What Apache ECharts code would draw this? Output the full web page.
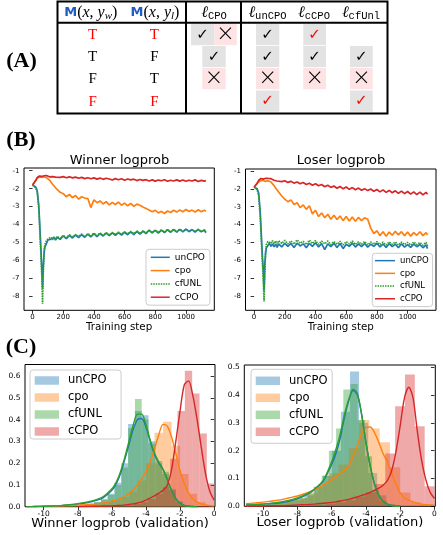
<!DOCTYPE html>
<html><head><meta charset="utf-8">
<script src="https://cdn.jsdelivr.net/npm/echarts@6/dist/echarts.min.js"></script>
<style>html,body{margin:0;padding:0;background:#fff}#c{width:443px;height:535px}</style>
</head><body><div id="c"></div>
<script>
// ---------- (B) training curves ----------
const steps = [0,10,20,30,40,45,50,55,60,65, 70,75,80,90,100,110,120,130,140,150,
  160,180,200,220,240,260,280,300,320,340, 360,380,400,420,440,460,480,500,520,540,
  560,580,600,620,640,660,680,700,720,740, 760,780,800,820,840,860,880,900,920,940,
  960,980,1000,1020,1040,1060,1080,1100,1120,1130];
const winUnCPO = [-1.80,-1.82,-1.90,-2.10,-2.90,-3.70,-4.60,-5.50,-6.40,-7.55,
  -6.30,-5.60,-5.25,-5.05,-4.85,-4.95,-4.80,-4.90,-4.72,-4.85,
  -4.70,-4.82,-4.62,-4.78,-4.60,-4.74,-4.58,-4.72,-4.55,-4.70,
  -4.52,-4.68,-4.50,-4.66,-4.49,-4.63,-4.47,-4.61,-4.45,-4.60,
  -4.44,-4.58,-4.42,-4.56,-4.40,-4.55,-4.38,-4.52,-4.36,-4.50,
  -4.30,-4.45,-4.32,-4.47,-4.30,-4.44,-4.28,-4.42,-4.27,-4.41,
  -4.26,-4.40,-4.25,-4.39,-4.27,-4.42,-4.26,-4.40,-4.30,-4.45];
const winCpo = [-1.80,-1.70,-1.55,-1.42,-1.38,-1.35,-1.40,-1.33,-1.37,-1.34,
  -1.38,-1.35,-1.40,-1.38,-1.45,-1.52,-1.62,-1.75,-1.82,-1.95,
  -2.02,-2.20,-2.28,-2.45,-2.32,-2.50,-2.38,-2.58,-2.45,-2.52,
  -2.55,-3.05,-2.62,-2.78,-2.68,-2.85,-2.72,-2.90,-2.76,-2.88,
  -2.75,-2.92,-2.80,-2.95,-2.82,-2.98,-2.86,-2.92,-3.02,-3.10,
  -3.18,-3.28,-3.20,-3.35,-3.26,-3.38,-3.24,-3.32,-3.20,-3.30,
  -3.18,-3.28,-3.16,-3.27,-3.19,-3.30,-3.17,-3.28,-3.20,-3.25];
const winCfUNL = [-1.80,-1.83,-1.95,-2.20,-3.10,-4.00,-4.90,-5.80,-6.90,-8.40,
  -6.60,-5.40,-5.10,-4.90,-4.78,-4.88,-4.70,-4.84,-4.68,-4.80,
  -4.65,-4.76,-4.60,-4.72,-4.56,-4.70,-4.55,-4.66,-4.52,-4.68,
  -4.50,-4.62,-4.48,-4.60,-4.46,-4.58,-4.44,-4.57,-4.43,-4.55,
  -4.42,-4.53,-4.40,-4.52,-4.38,-4.50,-4.36,-4.49,-4.35,-4.46,
  -4.33,-4.44,-4.30,-4.42,-4.29,-4.41,-4.28,-4.40,-4.27,-4.38,
  -4.26,-4.37,-4.25,-4.36,-4.28,-4.38,-4.27,-4.37,-4.29,-4.40];
const winCCPO = [-1.80,-1.72,-1.55,-1.38,-1.33,-1.30,-1.35,-1.29,-1.32,-1.27,
  -1.31,-1.28,-1.33,-1.27,-1.30,-1.34,-1.29,-1.33,-1.30,-1.36,
  -1.31,-1.37,-1.33,-1.39,-1.34,-1.40,-1.36,-1.42,-1.37,-1.44,
  -1.39,-1.45,-1.40,-1.47,-1.41,-1.48,-1.42,-1.46,-1.52,-1.44,
  -1.50,-1.45,-1.53,-1.46,-1.51,-1.47,-1.55,-1.49,-1.54,-1.50,
  -1.57,-1.51,-1.58,-1.52,-1.56,-1.50,-1.59,-1.53,-1.57,-1.51,
  -1.58,-1.52,-1.59,-1.53,-1.57,-1.51,-1.60,-1.54,-1.58,-1.55];
const losUnCPO = [-1.90,-1.92,-2.00,-2.25,-3.30,-4.20,-5.10,-5.90,-6.60,-7.70,
  -6.20,-5.60,-5.30,-5.20,-5.05,-5.22,-5.08,-5.25,-5.10,-5.28,
  -5.08,-5.25,-5.05,-5.22,-5.06,-5.28,-5.04,-5.20,-5.08,-5.30,
  -5.05,-5.22,-5.02,-5.25,-5.07,-5.40,-5.08,-5.24,-5.05,-5.28,
  -5.06,-5.35,-5.10,-5.22,-5.04,-5.26,-5.08,-5.24,-5.06,-5.27,
  -5.10,-5.22,-5.05,-5.25,-5.09,-5.28,-5.07,-5.24,-5.10,-5.30,
  -5.08,-5.26,-5.12,-5.28,-5.10,-5.24,-5.12,-5.30,-5.14,-5.35];
const losCpo = [-1.90,-1.82,-1.68,-1.60,-1.56,-1.53,-1.58,-1.52,-1.57,-1.53,
  -1.58,-1.54,-1.59,-1.55,-1.60,-1.62,-1.70,-1.82,-1.95,-2.05,
  -2.18,-2.40,-2.58,-2.72,-2.62,-2.88,-2.78,-3.05,-2.90,-3.15,
  -2.95,-3.40,-3.20,-3.55,-3.35,-3.62,-3.42,-3.70,-3.48,-3.72,
  -3.52,-3.78,-3.55,-3.80,-3.58,-3.82,-3.60,-3.78,-3.62,-3.70,
  -4.20,-4.50,-4.35,-4.62,-4.40,-4.65,-4.42,-4.60,-4.38,-4.58,
  -4.40,-4.62,-4.42,-4.65,-4.45,-4.60,-4.40,-4.62,-4.45,-4.58];
const losCfUNL = [-1.90,-1.93,-2.05,-2.40,-3.60,-4.50,-5.40,-6.30,-7.20,-8.30,
  -6.60,-5.50,-5.10,-4.95,-4.85,-5.05,-4.90,-5.08,-4.92,-5.10,
  -4.90,-5.06,-4.88,-5.08,-4.92,-5.10,-4.86,-5.05,-4.94,-5.12,
  -4.88,-5.06,-4.90,-5.10,-4.93,-5.08,-4.92,-5.12,-4.95,-5.10,
  -4.94,-5.14,-4.96,-5.08,-4.93,-5.12,-4.97,-5.10,-4.95,-5.14,
  -4.98,-5.10,-4.96,-5.12,-4.99,-5.14,-4.97,-5.10,-4.98,-5.15,
  -4.99,-5.12,-5.00,-5.15,-4.98,-5.12,-5.01,-5.16,-5.00,-5.20];
const losCCPO = [-1.90,-1.85,-1.70,-1.52,-1.46,-1.42,-1.47,-1.41,-1.46,-1.40,
  -1.45,-1.41,-1.46,-1.42,-1.47,-1.43,-1.48,-1.52,-1.49,-1.56,
  -1.51,-1.60,-1.55,-1.64,-1.58,-1.68,-1.62,-1.72,-1.65,-1.76,
  -1.69,-1.80,-1.72,-1.83,-1.76,-1.88,-1.80,-1.92,-1.84,-1.97,
  -1.87,-2.00,-1.90,-2.03,-1.93,-2.05,-1.96,-2.08,-1.99,-2.10,
  -2.01,-2.14,-2.04,-2.17,-2.06,-2.20,-2.09,-2.22,-2.11,-2.25,
  -2.13,-2.27,-2.15,-2.30,-2.17,-2.32,-2.18,-2.34,-2.20,-2.30];
const stepTicks = [0,200,400,600,800,1000];
const logTicks = [-8,-7,-6,-5,-4,-3,-2,-1];

// ---------- (C) validation histograms ----------
// bins: [first edge, bin width, heights]
const hWinUnCPO = [-9.05, 0.4, [0.002,0.004,0.005,0.008,0.012,0.020,0.032,0.060,0.110,0.200,0.380,0.440,0.420,0.300,0.200,0.150,0.075,0.022,0.005]];
const hWinCpo   = [-10.0, 0.5, [0.003,0.004,0.005,0.006,0.008,0.012,0.016,0.022,0.030,0.045,0.070,0.120,0.200,0.340,0.390,0.280,0.150,0.060,0.020,0.005]];
const hWinCfUNL = [-9.05, 0.4, [0.003,0.004,0.006,0.010,0.015,0.022,0.035,0.055,0.100,0.180,0.360,0.494,0.400,0.290,0.210,0.160,0.080,0.025,0.006]];
const hWinCCPO  = [-6.02, 0.43, [0.004,0.005,0.007,0.012,0.020,0.035,0.060,0.090,0.220,0.440,0.624,0.520,0.336,0.107]];
const hLosUnCPO = [-10.23, 0.53, [0.005,0.008,0.012,0.018,0.025,0.040,0.070,0.110,0.200,0.340,0.485,0.300,0.120,0.040,0.008]];
const hLosCpo   = [-11.0, 0.6, [0.006,0.006,0.008,0.020,0.022,0.030,0.050,0.080,0.120,0.150,0.210,0.310,0.280,0.230,0.140,0.050,0.015,0.005]];
const hLosCfUNL = [-10.36, 0.42, [0.004,0.006,0.008,0.012,0.016,0.022,0.030,0.045,0.070,0.110,0.200,0.280,0.420,0.440,0.310,0.180,0.060,0.020,0.005]];
const hLosCCPO  = [-7.47, 0.575, [0.004,0.006,0.010,0.015,0.022,0.035,0.050,0.080,0.190,0.360,0.474,0.288,0.072]];

const kdeX = [-11,-10.5,-10,-9.5,-9,-8.5,-8,-7.5,-7,-6.5,-6,
  -5.75,-5.5,-5.25,-5,-4.75,-4.5,-4.25,-4,-3.75,-3.5,-3.25,-3,-2.75,-2.5,-2.25,-2,-1.75,-1.5,-1.25,-1,-0.75,-0.5,-0.25,0];
const kWinUnCPO = [0.000,0.001,0.002,0.003,0.005,0.008,0.012,0.018,0.027,0.042,0.075,
  0.105,0.150,0.215,0.285,0.355,0.400,0.405,0.365,0.300,0.240,0.200,0.170,0.125,0.075,0.038,0.016,0.006,0.002,0.001,0.000,null,null,null,null];
const kWinCpo = [0.000,0.001,0.002,0.003,0.004,0.005,0.007,0.009,0.012,0.017,0.025,
  0.030,0.037,0.047,0.060,0.078,0.100,0.128,0.160,0.205,0.265,0.330,0.378,0.370,0.320,0.245,0.165,0.105,0.062,0.036,0.021,0.013,0.008,0.005,0.003];
const kWinCfUNL = [0.000,0.001,0.002,0.003,0.005,0.009,0.014,0.021,0.030,0.047,0.082,
  0.112,0.160,0.225,0.300,0.375,0.425,0.425,0.375,0.305,0.245,0.205,0.172,0.125,0.073,0.035,0.014,0.005,0.002,0.001,0.000,null,null,null,null];
const kWinCCPO = [null,null,null,null,null,null,0.000,0.001,0.002,0.003,0.004,
  0.005,0.006,0.008,0.010,0.013,0.017,0.022,0.030,0.040,0.050,0.062,0.075,0.098,0.170,0.300,0.440,0.560,0.578,0.510,0.400,0.270,0.150,0.070,0.030];
const kLosUnCPO = [0.005,0.006,0.008,0.010,0.013,0.018,0.027,0.040,0.060,0.090,0.150,
  0.190,0.245,0.320,0.380,0.420,0.405,0.330,0.230,0.145,0.080,0.040,0.018,0.008,0.003,0.001,0.000,null,null,null,null,null,null,null,null];
const kLosCpo = [0.009,0.012,0.015,0.019,0.023,0.030,0.037,0.047,0.060,0.076,0.096,
  0.106,0.118,0.130,0.146,0.180,0.220,0.262,0.283,0.285,0.265,0.230,0.190,0.160,0.120,0.080,0.048,0.030,0.022,0.016,0.011,0.008,0.006,0.005,0.004];
const kLosCfUNL = [0.005,0.006,0.008,0.011,0.015,0.021,0.030,0.043,0.062,0.092,0.160,
  0.205,0.260,0.330,0.385,0.415,0.400,0.330,0.230,0.145,0.080,0.040,0.018,0.008,0.003,0.001,0.000,null,null,null,null,null,null,null,null];
const kLosCCPO = [0.000,0.001,0.001,0.002,0.002,0.003,0.005,0.006,0.008,0.011,0.014,
  0.016,0.019,0.022,0.025,0.029,0.034,0.039,0.044,0.050,0.057,0.065,0.076,0.092,0.128,0.195,0.290,0.390,0.428,0.390,0.270,0.165,0.095,0.050,0.028];
const lpTicks = [-10,-8,-6,-4,-2,0];
const densWinTicks = [0,0.1,0.2,0.3,0.4,0.5,0.6];
const densLosTicks = [0,0.1,0.2,0.3,0.4,0.5];

// ---------- (A) table ----------
const names = ['unCPO','cpo','cfUNL','cCPO'];
const colW = ['T','T','F','F'];
const colL = ['T','F','T','F'];
const cellCPO = [['c','x'],['c'],['x'],[]];
const cellUnCPO = ['c','c','x','C'];
const cellCCPO = ['C','c','x',''];
const cellCfUnl = ['','c','x','C'];

const C = {blue:'#1f77b4', orange:'#ff7f0e', green:'#2ca02c', red:'#d62728'};
const A = {blue:'rgba(31,119,180,0.4)', orange:'rgba(255,127,14,0.4)', green:'rgba(44,160,44,0.4)', red:'rgba(214,39,40,0.4)'};
const FONT = 'DejaVu Sans';

const chart = echarts.init(document.getElementById('c'), null, {renderer:'canvas'});

function grid(l,t,w,h){return {left:l,top:t,width:w,height:h,show:true,borderColor:'#000',borderWidth:1,backgroundColor:'transparent',containLabel:false,outerBoundsMode:'none'};}
function axis(gi, min, max, ticks, fs, margin, fmt, name, nameGap, nameSize){
  const a = {type:'value', gridIndex:gi, min, max,
    axisLine:{show:false},
    axisTick:{show:true, customValues:ticks, length:3.5, inside:false, lineStyle:{color:'#000',width:0.8}},
    axisLabel:{show:true, customValues:ticks, fontSize:fs, fontFamily:FONT, color:'#000', margin, formatter:fmt || (v=>String(v)), hideOverlap:false, showMinLabel:true, showMaxLabel:true},
    splitLine:{show:false}};
  if (name){ a.name=name; a.nameLocation='middle'; a.nameGap=nameGap; a.nameMoveOverlap=false; a.nameTextStyle={fontSize:nameSize,fontFamily:FONT,color:'#000'}; }
  return a;
}
function line(name, ys, color, gi, type){
  return {type:'line', name, xAxisIndex:gi, yAxisIndex:gi, data: steps.map((s,i)=>[s, ys[i]]),
    symbol:'none', showSymbol:false, clip:true, silent:true, animation:false,
    lineStyle:{color, width:1.7, type:type||'solid'}, itemStyle:{color}};
}
function hist(name, spec, color, gi){
  const [x0, w, hs] = spec;
  return {type:'custom', name, xAxisIndex:gi, yAxisIndex:gi, clip:true, silent:true, animation:false,
    itemStyle:{color}, encode:{x:[0,1], y:2},
    data: hs.map((h,i)=>[x0+i*w, x0+(i+1)*w, h]),
    renderItem:(p, api)=>{
      const a = api.coord([api.value(0), api.value(2)]);
      const b = api.coord([api.value(1), 0]);
      return {type:'rect', shape:{x:a[0], y:a[1], width:b[0]-a[0], height:b[1]-a[1]}, style:{fill:api.visual('color')}};
    }};
}
function kde(name, ys, color, gi){
  const d = []; kdeX.forEach((x,i)=>{ if (ys[i]!==null) d.push([x, ys[i]]); });
  return {type:'line', name, xAxisIndex:gi, yAxisIndex:gi, data:d, symbol:'none', showSymbol:false, smooth:0.3,
    clip:true, silent:true, animation:false, lineStyle:{color, width:1.4}, itemStyle:{color}};
}
function legendB(l,t,fs,lh,gap,pad,iw){
  return {orient:'vertical', left:l, top:t, data:names, selectedMode:false, itemWidth:iw, itemHeight:9, itemGap:gap, padding:pad,
    itemStyle:{color:'transparent', borderColor:'transparent', borderWidth:0, opacity:0},
    lineStyle:{width:1.5},
    textStyle:{fontSize:fs, fontFamily:FONT, color:'#000', lineHeight:lh},
    backgroundColor:'rgba(255,255,255,0.8)', borderColor:'#cccccc', borderWidth:1, borderRadius:3};
}
function legendC(l,t,pad){
  return {orient:'vertical', left:l, top:t, data:names.map(n=>'h_'+n), formatter:n=>n.slice(2), selectedMode:false, icon:'rect',
    itemWidth:24.3, itemHeight:8.5, itemGap:4, padding:pad,
    textStyle:{fontSize:11.5, fontFamily:FONT, color:'#000', lineHeight:13, padding:[0,0,0,4]},
    backgroundColor:'rgba(255,255,255,0.8)', borderColor:'#cccccc', borderWidth:1, borderRadius:3};
}

// graphic helpers
const mctx = document.createElement('canvas').getContext('2d');
function mw(font, t){ mctx.font = font; return mctx.measureText(t).width; }
function txt(x, y, t, font, fill, align){
  return {type:'text', x, y, silent:true, style:{text:t, font, fill:fill||'#000', align:align||'center', verticalAlign:'middle'}};
}
function seg(cx, cy, segs){
  const tot = segs.reduce((a,s)=>a+mw(s.f,s.t),0); let x = cx - tot/2; const out=[];
  segs.forEach(s=>{ out.push(txt(x, cy+(s.dy||0), s.t, s.f, s.c, 'left')); x += mw(s.f,s.t); });
  return out;
}
const G = [];
const SER = '16px "Liberation Serif"', SERI = 'italic 16px "Liberation Serif"';
// panel labels
G.push(txt(21.5, 61.5, '(A)', 'bold 22px "Liberation Serif"'));
G.push(txt(21, 140.5, '(B)', 'bold 22px "Liberation Serif"'));
G.push(txt(21, 347, '(C)', 'bold 22px "Liberation Serif"'));
// plot titles
G.push(txt(119.5, 160.5, 'Winner logprob', '13px "DejaVu Sans"'));
G.push(txt(341, 160.5, 'Loser logprob', '13px "DejaVu Sans"'));
// table cell backgrounds
const GRAY = '#e3e3e3', PINK = '#fde3e3';
const rowTop = [24, 46, 68, 90.5], rowH = 21.2, rowMid = rowTop.map(t=>t+rowH/2);
function cell(x, w, r, k){
  if (!k) return;
  G.push({type:'rect', silent:true, shape:{x, y:rowTop[r], width:w, height:rowH}, style:{fill: k==='x'?PINK:GRAY}});
  const cx = x + w/2;
  if (k==='x') G.push(txt(cx, rowMid[r]+0.5, '×', '300 27px "Open Sans"', '#000'));
  else G.push(txt(cx, rowMid[r]+0.5, '✓', '15px "DejaVu Sans"', k==='C'?'#ff0000':'#000'));
}
cellCPO.forEach((ks,r)=>{
  if (ks.length===2){ cell(191, 23.3, r, ks[0]); cell(214.3, 22.4, r, ks[1]); }
  else if (ks.length===1){ cell(202.3, 23.4, r, ks[0]); }
});
cellUnCPO.forEach((k,r)=>cell(256, 23.3, r, k));
cellCCPO.forEach((k,r)=>cell(303.3, 22.7, r, k));
cellCfUnl.forEach((k,r)=>cell(350, 22.7, r, k));
// T/F
colW.forEach((v,r)=>G.push(txt(92.7, rowMid[r]+0.5, v, '15px "Liberation Serif"', (r===0||r===3)?'#ff0000':'#000')));
colL.forEach((v,r)=>G.push(txt(154.3, rowMid[r]+0.5, v, '15px "Liberation Serif"', (r===0||r===3)?'#ff0000':'#000')));
// headers
const MB = {t:'M', f:'bold 13px "DejaVu Sans"', c:'#1f5cc4'};
G.push(...seg(90.8, 12.5, [MB,{t:'(',f:SER},{t:'x',f:SERI},{t:', ',f:SER},{t:'y',f:SERI},{t:'w',f:'italic 11px "Liberation Serif"',dy:3.5},{t:')',f:SER}]));
G.push(...seg(155, 12.5, [MB,{t:'(',f:SER},{t:'x',f:SERI},{t:', ',f:SER},{t:'y',f:SERI},{t:'l',f:'italic 11px "Liberation Serif"',dy:3.5},{t:')',f:SER}]));
const ELL = {t:'ℓ', f:'italic 16px "DejaVu Serif"'};
function sub(t){ return {t, f:'10.5px "Liberation Mono"', dy:4}; }
G.push(...seg(214, 12.5, [ELL, sub('CPO')]));
G.push(...seg(267.5, 12.5, [ELL, sub('unCPO')]));
G.push(...seg(314, 12.5, [ELL, sub('cCPO')]));
G.push(...seg(361, 12.5, [ELL, sub('cfUnl')]));
// table frame
G.push({type:'rect', silent:true, shape:{x:57.5,y:1.5,width:330,height:112}, style:{fill:'none',stroke:'#000',lineWidth:2}});
G.push({type:'line', silent:true, shape:{x1:57.5,y1:22.8,x2:387.5,y2:22.8}, style:{stroke:'#000',lineWidth:2}});
G.push({type:'line', silent:true, shape:{x1:186,y1:1.5,x2:186,y2:113.5}, style:{stroke:'#000',lineWidth:2}});
G.push({type:'line', silent:true, shape:{x1:241,y1:1.5,x2:241,y2:113.5}, style:{stroke:'#000',lineWidth:2}});

const fmt1 = v => v.toFixed(1);
const option = {
  animation:false,
  backgroundColor:'#fff',
  grid:[grid(24,168,190.3,142.3), grid(245.5,169,190.5,141.3), grid(25,364.5,190,142.2), grid(244.3,365,191,141.3)],
  xAxis:[
    axis(0,-56,1185,stepTicks,7,3.8,null,'Training step',12.5,10.3),
    axis(1,-56,1185,stepTicks,7,3.8,null,'Training step',12.5,10.3),
    axis(2,-11.1,0.05,lpTicks,7.5,3.5,null,'Winner logprob (validation)',10,13),
    axis(3,-11.1,0.05,lpTicks,7.5,3.5,null,'Loser logprob (validation)',10,13)
  ],
  yAxis:[
    axis(0,-8.76,-0.85,logTicks,7,4.5,null),
    axis(1,-8.8,-0.89,logTicks,7,4.5,null),
    axis(2,0,0.653,densWinTicks,7.5,4.5,fmt1),
    axis(3,0,0.508,densLosTicks,7.5,4.5,fmt1)
  ],
  legend:[
    legendB(146,249.3,9,10,3.3,[3,5,3,4],19),
    legendB(372.3,253.3,8.5,9.7,3,[2.5,4,3,2],20),
    legendC(30,370,[4,14.5,1,4.7]),
    legendC(251,369.3,[5,4.6,5,4.7])
  ],
  series:[
    line('unCPO', winUnCPO, C.blue, 0), line('cpo', winCpo, C.orange, 0),
    line('cfUNL', winCfUNL, C.green, 0, [1.5,1]), line('cCPO', winCCPO, C.red, 0),
    line('unCPO', losUnCPO, C.blue, 1), line('cpo', losCpo, C.orange, 1),
    line('cfUNL', losCfUNL, C.green, 1, [1.5,1]), line('cCPO', losCCPO, C.red, 1),
    hist('h_unCPO', hWinUnCPO, A.blue, 2), kde('k_unCPO', kWinUnCPO, C.blue, 2),
    hist('h_cpo', hWinCpo, A.orange, 2), kde('k_cpo', kWinCpo, C.orange, 2),
    hist('h_cfUNL', hWinCfUNL, A.green, 2), kde('k_cfUNL', kWinCfUNL, C.green, 2),
    hist('h_cCPO', hWinCCPO, A.red, 2), kde('k_cCPO', kWinCCPO, C.red, 2),
    hist('h_unCPO', hLosUnCPO, A.blue, 3), kde('k_unCPO', kLosUnCPO, C.blue, 3),
    hist('h_cpo', hLosCpo, A.orange, 3), kde('k_cpo', kLosCpo, C.orange, 3),
    hist('h_cfUNL', hLosCfUNL, A.green, 3), kde('k_cfUNL', kLosCfUNL, C.green, 3),
    hist('h_cCPO', hLosCCPO, A.red, 3), kde('k_cCPO', kLosCCPO, C.red, 3)
  ],
  graphic:{elements:G}
};
chart.setOption(option);
</script></body></html>
